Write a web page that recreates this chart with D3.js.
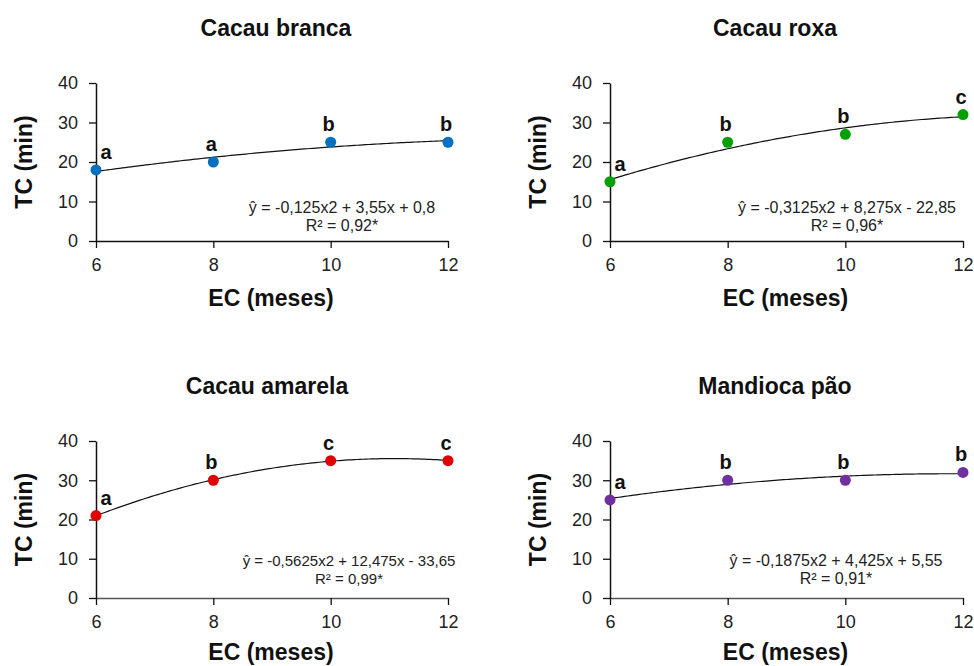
<!DOCTYPE html>
<html><head><meta charset="utf-8">
<script src="https://cdn.jsdelivr.net/npm/d3@7"></script>
<style>body{margin:0;background:#fff}svg{font-family:"Liberation Sans",Arial,sans-serif}</style>
</head><body><svg id="c" width="974" height="666"></svg>
<script>
const months = [6, 8, 10, 12];
const titles = ["Cacau branca", "Cacau roxa", "Cacau amarela", "Mandioca pão"];
const valuesBranca = [18, 20, 25, 25];
const valuesRoxa = [15, 25, 27, 32];
const valuesAmarela = [21, 30, 35, 35];
const valuesMandioca = [25, 30, 30, 32];
const lettersBranca = ["a", "a", "b", "b"];
const lettersRoxa = ["a", "b", "b", "c"];
const lettersAmarela = ["a", "b", "c", "c"];
const lettersMandioca = ["a", "b", "b", "b"];
const coefBranca = [-0.125, 3.55, 0.8];
const coefRoxa = [-0.3125, 8.275, -22.85];
const coefAmarela = [-0.5625, 12.475, -33.65];
const coefMandioca = [-0.1875, 4.425, 5.55];
const eqBranca = ["ŷ = -0,125x2 + 3,55x + 0,8", "R² = 0,92*"];
const eqRoxa = ["ŷ = -0,3125x2 + 8,275x - 22,85", "R² = 0,96*"];
const eqAmarela = ["ŷ = -0,5625x2 + 12,475x - 33,65", "R² = 0,99*"];
const eqMandioca = ["ŷ = -0,1875x2 + 4,425x + 5,55", "R² = 0,91*"];
const yTicks = [0, 10, 20, 30, 40];
const xTicks = [6, 8, 10, 12];

const panels = [
  {title: titles[0], vals: valuesBranca, letters: lettersBranca, coef: coefBranca, eq: eqBranca, color: "#0070C0",
   x0: 96, x1: 448, yTop: 83, yBot: 241, titleX: 276, titleY: 36, eqX: 342, eqY: 213, eqSize: 16, axisCol: "#111", xtY: 306},
  {title: titles[1], vals: valuesRoxa, letters: lettersRoxa, coef: coefRoxa, eq: eqRoxa, color: "#00A000",
   x0: 610, x1: 963, yTop: 83, yBot: 241, titleX: 775, titleY: 36, eqX: 847, eqY: 213, eqSize: 16, axisCol: "#111", xtY: 306},
  {title: titles[2], vals: valuesAmarela, letters: lettersAmarela, coef: coefAmarela, eq: eqAmarela, color: "#E00000",
   x0: 96, x1: 448, yTop: 441, yBot: 598, titleX: 267, titleY: 394, eqX: 349, eqY: 566, eqSize: 15, axisCol: "#555", xtY: 660},
  {title: titles[3], vals: valuesMandioca, letters: lettersMandioca, coef: coefMandioca, eq: eqMandioca, color: "#7030A0",
   x0: 610, x1: 963, yTop: 441, yBot: 598, titleX: 775, titleY: 394, eqX: 836, eqY: 566, eqSize: 16, axisCol: "#555", xtY: 660}
];

const svg = d3.select("#c");

panels.forEach(p => {
  const x = d3.scaleLinear().domain([6, 12]).range([p.x0, p.x1]);
  const y = d3.scaleLinear().domain([0, 40]).range([p.yBot, p.yTop]);
  const g = svg.append("g");

  // y axis
  const ya = g.append("g").attr("transform", `translate(${p.x0},0)`)
    .call(d3.axisLeft(y).tickValues(yTicks).tickFormat(d3.format("d")).tickSize(7).tickPadding(11).tickSizeOuter(0));
  ya.select(".domain").attr("stroke", "#111").attr("stroke-width", 1.5);
  ya.selectAll(".tick line").attr("stroke", "#111").attr("stroke-width", 1.3);
  ya.selectAll("text").attr("font-size", 18).attr("fill", "#222").attr("font-family", "Liberation Sans, Arial");

  // x axis
  const xa = g.append("g").attr("transform", `translate(0,${p.yBot})`)
    .call(d3.axisBottom(x).tickValues(xTicks).tickFormat(d3.format("d")).tickSize(7).tickPadding(10).tickSizeOuter(0));
  xa.select(".domain").attr("stroke", p.axisCol).attr("stroke-width", 1.5);
  xa.selectAll(".tick line").attr("stroke", "#111").attr("stroke-width", 1.3);
  xa.selectAll("text").attr("font-size", 18).attr("fill", "#222").attr("font-family", "Liberation Sans, Arial");

  // title
  g.append("text").attr("x", p.titleX).attr("y", p.titleY)
    .attr("text-anchor", "middle").attr("font-size", 23).attr("font-weight", "bold").attr("fill", "#111")
    .text(p.title);

  // axis titles
  g.append("text").attr("x", (p.x0 + p.x1) / 2 - 1).attr("y", p.xtY)
    .attr("text-anchor", "middle").attr("font-size", 23).attr("font-weight", "bold").attr("fill", "#111")
    .text("EC (meses)");
  g.append("text").attr("transform", `translate(${p.x0 - 64},${(p.yTop + p.yBot) / 2}) rotate(-90)`)
    .attr("text-anchor", "middle").attr("font-size", 23).attr("font-weight", "bold").attr("fill", "#111")
    .text("TC (min)");

  // fitted curve
  const fx = d3.range(6, 12.0001, 0.05);
  const line = d3.line().x(d => x(d)).y(d => y(p.coef[0] * d * d + p.coef[1] * d + p.coef[2]));
  g.append("path").datum(fx).attr("d", line).attr("fill", "none").attr("stroke", "#111").attr("stroke-width", 1.2);

  // points
  g.selectAll("circle.pt").data(months).join("circle")
    .attr("cx", d => x(d)).attr("cy", (d, i) => y(p.vals[i])).attr("r", 5.5).attr("fill", p.color);

  // letters
  g.selectAll("text.lt").data(months).join("text")
    .attr("x", (d, i) => x(d) + (i === 0 ? 10 : -2)).attr("y", (d, i) => y(p.vals[i]) - 11)
    .attr("text-anchor", "middle").attr("font-size", 20).attr("font-weight", "bold").attr("fill", "#111")
    .text((d, i) => p.letters[i]);

  // equation
  g.selectAll("text.eq").data(p.eq).join("text")
    .attr("x", p.eqX).attr("y", (d, i) => p.eqY + i * 18)
    .attr("text-anchor", "middle").attr("font-size", p.eqSize).attr("fill", "#222")
    .text(d => d);
});
</script></body></html>
